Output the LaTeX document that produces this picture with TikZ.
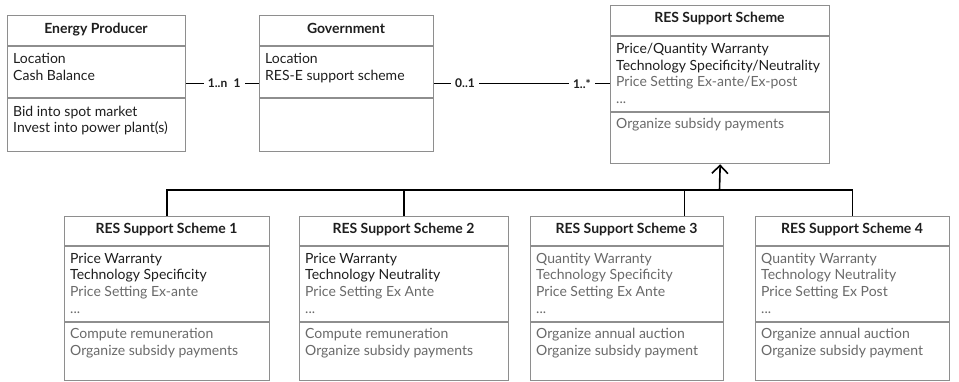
\documentclass[tikz,border=0pt]{standalone}
\usepackage{fontspec}
\setmainfont{Lato}
\usepackage{tikz}
\usetikzlibrary{arrows.meta}

\definecolor{boxgray}{HTML}{8E8E8E}
\definecolor{txtdark}{HTML}{1E1E1E}
\definecolor{txtgray}{HTML}{6A6A6A}

\tikzset{
  frame/.style={draw=boxgray, line width=1.3pt, fill=white, inner sep=0pt, anchor=north west},
  sep/.style={draw=boxgray, line width=1.3pt},
  title/.style={font=\fontsize{14}{16.7}\selectfont\bfseries, text=txtdark, anchor=base, inner sep=0pt},
  txt/.style={font=\fontsize{14}{16.7}\selectfont, text=txtgray, anchor=base west, align=left, inner sep=0pt},
  dark/.style={text=txtdark},
  conn/.style={draw=black, line width=1.6pt},
  mult/.style={font=\fontsize{12}{14}\selectfont\bfseries, text=txtdark, fill=white, inner xsep=4pt, inner ysep=2pt}
}

\begin{document}
\begin{tikzpicture}[x=1pt, y=-1pt]
\useasboundingbox (0,0) rectangle (959,381);

% top row (text nodes sit on the baseline of their last line)
\node[frame, minimum width=178, minimum height=136] (ep) at (7,15) {};
\draw[sep] (7,46) -- (185,46);
\draw[sep] (7,98) -- (185,98);
\node[title] (ep-t) at (96,33) {Energy Producer};
\node[txt, dark] (ep-a) at (13,80.2) {Location\\Cash Balance};
\node[txt, dark] (ep-m) at (13,132.7) {Bid into spot market\\Invest into power plant(s)};

\node[frame, minimum width=174, minimum height=136] (gov) at (259,15) {};
\draw[sep] (259,46) -- (433,46);
\draw[sep] (259,98) -- (433,98);
\node[title] (gov-t) at (346,33) {Government};
\node[txt, dark] (gov-a) at (265,80.2) {Location\\RES-E support scheme};

\node[frame, minimum width=219, minimum height=158] (res) at (610,5) {};
\draw[sep] (610,36) -- (829,36);
\draw[sep] (610,112) -- (829,112);
\node[title] (res-t) at (719.5,22) {RES Support Scheme};
\node[txt] (res-a) at (616,103.4) {\textcolor{txtdark}{Price/Quantity Warranty}\\\textcolor{txtdark}{Technology Specificity/Neutrality}\\Price Setting Ex-ante/Ex-post\\...};
\node[txt] (res-m) at (616,128.5) {Organize subsidy payments};

% bottom row
\node[frame, minimum width=205, minimum height=164] (s1) at (64,216) {};
\draw[sep] (64,246) -- (269,246);
\draw[sep] (64,322) -- (269,322);
\node[title] (s1-t) at (166.5,233.3) {RES Support Scheme 1};
\node[txt] (s1-a) at (70,313.1) {\textcolor{txtdark}{Price Warranty}\\\textcolor{txtdark}{Technology Specificity}\\Price Setting Ex-ante\\...};
\node[txt] (s1-m) at (70,355.2) {Compute remuneration\\Organize subsidy payments};

\node[frame, minimum width=209, minimum height=164] (s2) at (299,216) {};
\draw[sep] (299,246) -- (508,246);
\draw[sep] (299,322) -- (508,322);
\node[title] (s2-t) at (403.5,233.3) {RES Support Scheme 2};
\node[txt] (s2-a) at (305,313.1) {\textcolor{txtdark}{Price Warranty}\\\textcolor{txtdark}{Technology Neutrality}\\Price Setting Ex Ante\\...};
\node[txt] (s2-m) at (305,355.2) {Compute remuneration\\Organize subsidy payments};

\node[frame, minimum width=193, minimum height=164] (s3) at (530,216) {};
\draw[sep] (530,246) -- (723,246);
\draw[sep] (530,322) -- (723,322);
\node[title] (s3-t) at (626.5,233.3) {RES Support Scheme 3};
\node[txt] (s3-a) at (536,313.1) {Quantity Warranty\\Technology Specificity\\Price Setting Ex Ante\\...};
\node[txt] (s3-m) at (536,355.2) {Organize annual auction\\Organize subsidy payment};

\node[frame, minimum width=194, minimum height=164] (s4) at (755,216) {};
\draw[sep] (755,246) -- (949,246);
\draw[sep] (755,322) -- (949,322);
\node[title] (s4-t) at (852,233.3) {RES Support Scheme 4};
\node[txt] (s4-a) at (761,313.1) {Quantity Warranty\\Technology Neutrality\\Price Setting Ex Post\\...};
\node[txt] (s4-m) at (761,355.2) {Organize annual auction\\Organize subsidy payment};

% associations
\draw[conn] (ep.east) -- (gov.west)
  node[mult, pos=0.43] (m1) {1..n}
  node[mult, pos=0.7] (m2) {1};
\draw[conn] (gov.east) -- (gov.east -| res.west)
  node[mult, pos=0.175] (m3) {0..1}
  node[mult, pos=0.84] (m4) {1..*};

% generalization
\coordinate (hub) at (719.5,190);
\draw[conn] (s1.north) |- (hub) -| (s4.north);
\draw[conn] (s2.north) -- (s2.north |- hub);
\draw[conn] ([xshift=57.5pt]s3.north) -- ([xshift=57.5pt]s3.north |- hub);
\draw[conn, -{Straight Barb[length=8pt, width=16pt, line width=1.6pt]}] (hub) -- (res.south);

\end{tikzpicture}
\end{document}
